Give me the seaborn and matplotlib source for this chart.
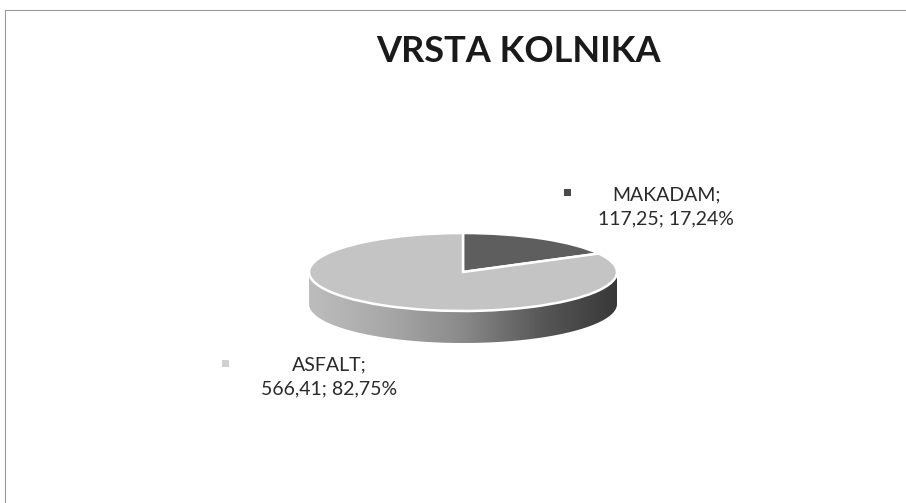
import matplotlib
matplotlib.use("Agg")
import numpy as np
import matplotlib.pyplot as plt
import seaborn as sns
from matplotlib.patches import Rectangle, Polygon
from matplotlib.lines import Line2D
from matplotlib.colors import LinearSegmentedColormap

# data
categories = ["MAKADAM", "ASFALT"]
values = [117.25, 566.41]
label_texts = ["MAKADAM;\n117,25; 17,24%", "ASFALT;\n566,41; 82,75%"]
top_colors = ["#5e5e5e", "#c4c4c4"]

sns.set_theme(style="white")
plt.rcParams["font.family"] = ["Lato", "DejaVu Sans"]

W, H = 906, 503
fig = plt.figure(figsize=(W / 100, H / 100), dpi=100)
fig.patch.set_facecolor("white")

# pie geometry in pixels
cx, cy = 463, 272
rx, ry = 154, 39
depth = 32

ax = fig.add_axes([0, 0, 1, 1])
d = depth / ry

# side of the cylinder: front half, shaded light (left) to dark (right)
t = np.linspace(np.pi, 2 * np.pi, 200)
side_pts = np.concatenate([np.column_stack([np.cos(t), np.sin(t)]),
                           np.column_stack([np.cos(t[::-1]), np.sin(t[::-1]) - d])])
side = Polygon(side_pts, closed=True, facecolor="none", edgecolor="none")
ax.add_patch(side)
side_cmap = LinearSegmentedColormap.from_list(
    "side", ["#bdbdbd", "#a8a8a8", "#8a8a8a", "#585858", "#383838"])
grad = np.linspace(0, 1, 256).reshape(1, -1)
img = ax.imshow(grad, cmap=side_cmap, extent=[-1, 1, -1 - d, 0],
                aspect="auto", zorder=1)
img.set_clip_path(side)

# top face
ax.pie(values, colors=top_colors, startangle=90, counterclock=False,
       center=(0, 0), radius=1,
       wedgeprops=dict(edgecolor="white", linewidth=1.8, zorder=2))

ax.set_aspect("auto")
ax.set_xlim(-cx / rx, (W - cx) / rx)
ax.set_ylim(-(H - cy) / ry, cy / ry)
ax.axis("off")

# title
fig.text(519 / W, 1 - 52 / H, "VRSTA KOLNIKA", ha="center", va="center",
         fontsize=26, fontweight="bold", color="#1a1a1a")

# data labels with small legend keys
label_pos = [(666, 207), (329, 377)]
key_pos = [(567, 192), (225, 363)]
key_colors = ["#4a4a4a", "#d0d0d0"]
for txt, (lx, ly), (kx, ky), col in zip(label_texts, label_pos, key_pos, key_colors):
    fig.text(lx / W, 1 - ly / H, txt, ha="center", va="center",
             fontsize=14, color="#2a2a2a", linespacing=1.5)
    fig.patches.append(Rectangle(((kx - 3.5) / W, 1 - (ky + 3.5) / H), 7 / W, 7 / H,
                                 transform=fig.transFigure, facecolor=col,
                                 edgecolor="none"))

# chart border (top and left visible)
fig.lines.append(Line2D([5 / W, 1], [1 - 10 / H, 1 - 10 / H], transform=fig.transFigure,
                        color="#999999", linewidth=0.8))
fig.lines.append(Line2D([5 / W, 5 / W], [0, 1 - 10 / H], transform=fig.transFigure,
                        color="#999999", linewidth=0.8))

fig.savefig("out.png", dpi=100, facecolor="white")
